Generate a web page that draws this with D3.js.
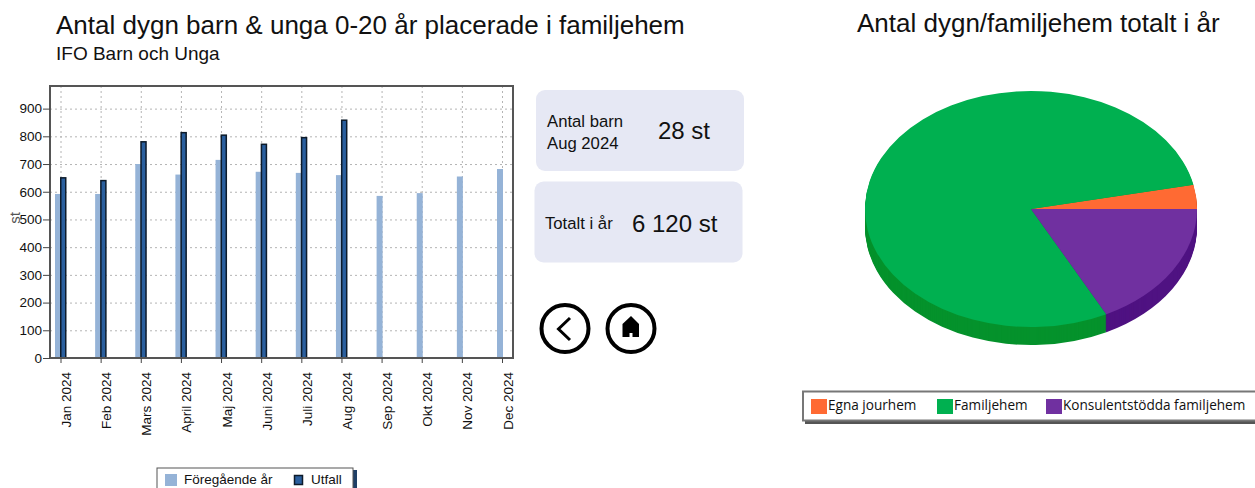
<!DOCTYPE html>
<html>
<head>
<meta charset="utf-8">
<script src="https://cdn.jsdelivr.net/npm/d3@7"></script>
<style>
    html, body { margin: 0; padding: 0; background: #fff; overflow: hidden; }
    text { font-family: "Liberation Sans", Arial, sans-serif; fill: #111; }
</style>
</head>
<body>
<div id="container"></div>
<script>
const months = ["Jan 2024", "Feb 2024", "Mars 2024", "April 2024", "Maj 2024", "Juni 2024",
    "Juli 2024", "Aug 2024", "Sep 2024", "Okt 2024", "Nov 2024", "Dec 2024"];
const foregaende = [592, 592, 700, 662, 715, 672, 668, 660, 585, 595, 655, 682];
const utfall = [652, 642, 782, 815, 806, 773, 797, 860];
const yTicks = [0, 100, 200, 300, 400, 500, 600, 700, 800, 900];

const pieNames = ["Egna jourhem", "Familjehem", "Konsulentstödda familjehem"];
const pieValues = [3.3, 79.2, 17.5];
const pieColors = ["#ff6a33", "#00b050", "#7030a0"];
const pieWallColors = ["#c8481a", "#05922c", "#4f1282"];

const svg = d3.select("#container").append("svg")
    .attr("width", 1255)
    .attr("height", 488);

// headings
svg.append("text").attr("x", 56).attr("y", 34).attr("font-size", 26)
    .text("Antal dygn barn & unga 0-20 år placerade i familjehem");
svg.append("text").attr("x", 56).attr("y", 60).attr("font-size", 19)
    .text("IFO Barn och Unga");
svg.append("text").attr("x", 857).attr("y", 32).attr("font-size", 26)
    .text("Antal dygn/familjehem totalt i år");

// bar chart
const box = { left: 50, right: 513, top: 87, bottom: 358 };
const x = d3.scalePoint().domain(months).range([60.5, 502]);
const y = d3.scaleLinear().domain([0, 978]).range([box.bottom, box.top]);

const gridY = svg.append("g")
    .attr("transform", `translate(${box.left},0)`)
    .call(d3.axisLeft(y).tickValues(yTicks.slice(1)).tickSize(-(box.right - box.left)).tickFormat(""));
const gridX = svg.append("g")
    .attr("transform", `translate(0,${box.bottom})`)
    .call(d3.axisBottom(x).tickSize(-(box.bottom - box.top)).tickFormat(""));
gridY.select(".domain").remove();
gridX.select(".domain").remove();
svg.selectAll("g line").attr("stroke", "#b4b4b4").attr("stroke-dasharray", "2,3");

svg.append("g").selectAll("rect")
    .data(foregaende)
    .join("rect")
    .attr("x", (d, i) => x(months[i]) - 5.5 + (i > 7 ? 0.5 : 0))
    .attr("y", d => y(d))
    .attr("width", 6)
    .attr("height", d => box.bottom - y(d))
    .attr("fill", "#95b3d7");
svg.append("g").selectAll("rect")
    .data(utfall)
    .join("rect")
    .attr("x", (d, i) => x(months[i]) + 0.25)
    .attr("y", d => y(d) + 0.5)
    .attr("width", 5)
    .attr("height", d => box.bottom - y(d) - 0.5)
    .attr("fill", "#2a5f9e")
    .attr("stroke", "#0d1b2a")
    .attr("stroke-width", 1.5);

svg.append("rect")
    .attr("x", box.left).attr("y", box.top - 1)
    .attr("width", box.right - box.left).attr("height", box.bottom - box.top + 1)
    .attr("fill", "none").attr("stroke", "#555").attr("stroke-width", 2);

const yAxis = svg.append("g")
    .attr("transform", `translate(${box.left},0)`)
    .call(d3.axisLeft(y).tickValues(yTicks).tickSize(7).tickPadding(1).tickSizeOuter(0));
yAxis.select(".domain").remove();
yAxis.selectAll("line").attr("stroke", "#444");
yAxis.selectAll("text").attr("font-size", 13.5);

const xAxis = svg.append("g")
    .attr("transform", `translate(0,${box.bottom})`)
    .call(d3.axisBottom(x).tickSize(5).tickSizeOuter(0));
xAxis.select(".domain").remove();
xAxis.selectAll("line").attr("stroke", "#444");
xAxis.selectAll("text")
    .attr("font-size", 13.5)
    .attr("text-anchor", "end")
    .attr("dy", 0)
    .attr("x", 0)
    .attr("y", 0)
    .attr("transform", "translate(10,14) rotate(-90)");

svg.append("text")
    .attr("transform", "translate(20,218) rotate(-90)")
    .attr("text-anchor", "middle")
    .attr("font-size", 15)
    .style("fill", "#555")
    .text("st");

// bar legend
svg.append("rect").attr("x", 157).attr("y", 470).attr("width", 200).attr("height", 24).attr("fill", "#1f3f66");
svg.append("rect").attr("x", 157).attr("y", 468).attr("width", 196).attr("height", 24)
    .attr("fill", "#fff").attr("stroke", "#555").attr("stroke-width", 1);
svg.append("rect").attr("x", 165).attr("y", 474).attr("width", 12).attr("height", 12).attr("fill", "#95b3d7");
svg.append("text").attr("x", 184).attr("y", 484).attr("font-size", 13.5).text("Föregående år");
svg.append("rect").attr("x", 294.5).attr("y", 475.5).attr("width", 8).attr("height", 9)
    .attr("fill", "#2a5f9e").attr("stroke", "#0d1b2a").attr("stroke-width", 1.5);
svg.append("text").attr("x", 311).attr("y", 484).attr("font-size", 13.5).text("Utfall");

// info cards
svg.append("rect").attr("x", 536).attr("y", 90).attr("width", 208).attr("height", 81).attr("rx", 9).attr("fill", "#e6e8f4");
svg.append("rect").attr("x", 534.5).attr("y", 181.5).attr("width", 208).attr("height", 81).attr("rx", 9).attr("fill", "#e6e8f4");
svg.append("text").attr("x", 547).attr("y", 127).attr("font-size", 16.7).text("Antal barn");
svg.append("text").attr("x", 547).attr("y", 149).attr("font-size", 16.7).text("Aug 2024");
svg.append("text").attr("x", 658).attr("y", 139).attr("font-size", 24).text("28 st");
svg.append("text").attr("x", 545).attr("y", 229).attr("font-size", 16.7).text("Totalt i år");
svg.append("text").attr("x", 632).attr("y", 232).attr("font-size", 24).text("6 120 st");

// buttons
svg.append("circle").attr("cx", 565).attr("cy", 328.5).attr("r", 23.5)
    .attr("fill", "#fff").attr("stroke", "#000").attr("stroke-width", 4);
svg.append("path").attr("d", "M570,318L558.5,329L570,340")
    .attr("fill", "none").attr("stroke", "#000").attr("stroke-width", 3);
svg.append("circle").attr("cx", 631).attr("cy", 328.5).attr("r", 23.5)
    .attr("fill", "#fff").attr("stroke", "#000").attr("stroke-width", 4);
svg.append("path").attr("d", "M631,316L639,324V337H632.5V333H629.5V337H622.5V324Z").attr("fill", "#000");

// pie chart, drawn counter-clockwise from 3 o'clock
const rx = 166;
const ry = 118;
const depth = 18;
const pie = d3.pie().sort(null).startAngle(Math.PI / 2).endAngle(Math.PI / 2 - 2 * Math.PI);
const arc = d3.arc().innerRadius(0).outerRadius(rx);
const slices = pie(pieValues);

for (let i = depth; i > 0; i--) {
    svg.append("g")
        .attr("transform", `translate(1031,${209 + i}) scale(1,${ry / rx})`)
        .selectAll("path")
        .data(slices)
        .join("path")
        .attr("d", arc)
        .attr("fill", (d, k) => pieWallColors[k]);
}
svg.append("g")
    .attr("transform", `translate(1031,209) scale(1,${ry / rx})`)
    .selectAll("path")
    .data(slices)
    .join("path")
    .attr("d", arc)
    .attr("fill", (d, k) => pieColors[k]);

// pie legend
svg.append("rect").attr("x", 805).attr("y", 394).attr("width", 460).attr("height", 30).attr("fill", "#555");
svg.append("rect").attr("x", 803).attr("y", 391.5).attr("width", 460).attr("height", 29)
    .attr("fill", "#fff").attr("stroke", "#777").attr("stroke-width", 2);
const legendX = [811, 937, 1046];
const legendItems = svg.append("g").selectAll("g")
    .data(pieNames)
    .join("g")
    .attr("transform", (d, i) => `translate(${legendX[i]},399)`);
legendItems.append("rect").attr("width", 16).attr("height", 15).attr("fill", (d, i) => pieColors[i]);
legendItems.append("text").attr("x", 17).attr("y", 11)
    .attr("font-size", 13.6)
    .style("font-family", "'Open Sans', sans-serif")
    .text(d => d);
</script>
</body>
</html>
